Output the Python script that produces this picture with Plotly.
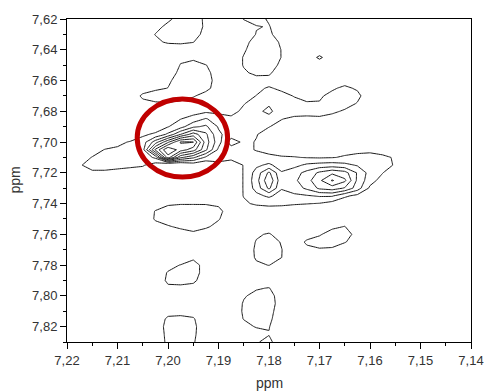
import numpy as np
import plotly.graph_objects as go

# chemical-shift grid (F2 along x, F1 along y), in ppm
x_ppm = [7.22, 7.2175, 7.215, 7.2125, 7.21, 7.2075, 7.205, 7.2025, 7.20, 7.1975,
         7.195, 7.1925, 7.19, 7.1875, 7.185, 7.1825, 7.18, 7.1775, 7.175, 7.1725,
         7.17, 7.1675, 7.165, 7.1625, 7.16, 7.1575, 7.155, 7.1525, 7.15, 7.1475,
         7.145, 7.1425, 7.14]
y_ppm = [7.615, 7.62, 7.625, 7.63, 7.635, 7.64, 7.645, 7.65, 7.655, 7.66,
         7.665, 7.67, 7.675, 7.68, 7.685, 7.69, 7.695, 7.70, 7.705, 7.71,
         7.715, 7.72, 7.725, 7.73, 7.735, 7.74, 7.745, 7.75, 7.755, 7.76,
         7.765, 7.77, 7.775, 7.78, 7.785, 7.79, 7.795, 7.80, 7.805, 7.81,
         7.815, 7.82, 7.825, 7.83, 7.835]

intensity_rows = [
    {8: 9, 9: 18, 10: 17, 11: 8, 13: 5, 14: 15, 15: 18, 16: 15, 17: 5},
    {7: 2, 8: 7, 9: 16, 10: 15, 11: 8, 13: 3, 14: 10.5, 15: 13, 16: 9, 17: 3},
    {7: 5, 8: 14, 9: 20, 10: 16, 11: 8, 14: 5, 15: 9.5, 16: 10.5, 17: 5},
    {7: 10.5, 8: 16, 9: 18, 10: 15, 11: 6, 14: 3, 15: 10.5, 16: 11.5, 17: 6},
    {7: 7, 8: 12, 9: 13, 10: 10.5, 14: 6, 15: 15, 16: 16, 17: 8},
    {14: 8, 15: 18, 16: 18, 17: 9.5},
    {9: 8, 10: 7, 14: 11, 15: 20, 16: 19, 17: 9.5, 20: 13},
    {8: 3, 9: 10.5, 10: 15, 11: 10.5, 12: 2, 14: 11, 15: 18, 16: 16, 17: 7},
    {8: 6, 9: 12, 10: 17, 11: 13, 12: 5, 14: 8, 15: 13, 16: 12, 17: 3},
    {8: 8, 9: 15, 10: 17, 11: 14, 12: 6, 15: 5, 16: 6, 22: 7},
    {6: 5, 7: 8, 8: 10.2, 9: 16, 10: 16, 11: 13, 12: 5, 15: 8, 16: 11, 17: 8, 21: 9, 22: 11.5, 23: 9},
    {5: 3, 6: 12, 7: 15, 8: 16, 9: 15, 10: 11, 11: 6, 14: 7, 15: 10.2, 16: 14, 17: 13, 18: 9.5,
     19: 7, 20: 9, 21: 12, 22: 14, 23: 12, 24: 5},
    {6: 7, 7: 8.5, 8: 9, 9: 7, 10: 5, 11: 3, 14: 9.5, 15: 14, 16: 19, 17: 15, 18: 13, 19: 11,
     20: 10.5, 21: 13, 22: 13, 23: 9.5, 24: 4},
    {9: 3, 10: 6, 11: 8, 12: 8, 13: 7, 14: 12, 15: 18, 16: 22, 17: 15, 18: 14, 19: 13, 20: 12,
     21: 11.5, 22: 9},
    {8: 5, 9: 9.8, 10: 14, 11: 21, 12: 14, 13: 12, 14: 12, 15: 13, 16: 17, 17: 10.3, 18: 8,
     19: 8, 20: 9, 21: 7, 22: 5},
    {7: 3, 8: 9.5, 9: 16, 10: 28, 11: 32, 12: 19, 13: 13, 14: 12, 15: 12, 16: 10.3, 17: 7, 18: 3},
    {6: 8, 7: 12, 8: 22, 9: 40, 10: 55, 11: 42, 12: 22, 13: 15, 14: 12, 15: 10.5, 16: 6, 17: 5},
    {3: 3, 4: 7, 5: 11, 6: 15, 7: 35, 8: 58, 9: 81, 10: 80.5, 11: 45, 12: 24, 13: 5, 14: 12,
     15: 9.5, 16: 5},
    {2: 5, 3: 10.5, 4: 12, 5: 13, 6: 16, 7: 62, 8: 90, 9: 75, 10: 65, 11: 42, 12: 18, 13: 15,
     14: 12, 15: 9.5, 16: 6, 17: 5, 18: 5, 19: 4, 20: 4, 21: 5, 22: 7, 23: 7, 24: 8, 25: 6, 26: 3},
    {1: 5, 2: 10.5, 3: 13, 4: 14, 5: 14, 6: 14, 7: 22, 8: 75, 9: 42, 10: 32, 11: 18, 12: 14,
     13: 12, 14: 12, 15: 13, 16: 13, 17: 11, 18: 10.5, 19: 9.5, 20: 9, 21: 9.5, 22: 11, 23: 13,
     24: 13, 25: 12, 26: 9, 27: 3},
    {1: 9, 2: 14, 3: 14, 4: 13, 5: 12, 6: 11, 7: 5, 8: -10, 9: -5, 10: 2, 11: 0, 12: 7, 13: 6,
     14: 10.3, 15: 18, 16: 22, 17: 15, 18: 17, 19: 22, 20: 24, 21: 25, 22: 23, 23: 19, 24: 15,
     25: 12, 26: 9.5, 27: 3},
    {1: 3, 2: 8, 3: 8, 4: 7, 5: 6, 6: 5, 7: 3, 13: 6, 14: 10.3, 15: 24, 16: 42, 17: 21, 18: 26,
     19: 33, 20: 42, 21: 48, 22: 44, 23: 29, 24: 16, 25: 10.3, 26: 3},
    {13: 6, 14: 10.3, 15: 26, 16: 48, 17: 23, 18: 28, 19: 36, 20: 48, 21: 61, 22: 52, 23: 28,
     24: 14, 25: 6},
    {13: 6, 14: 10.3, 15: 24, 16: 42, 17: 21, 18: 25, 19: 32, 20: 42, 21: 45, 22: 39, 23: 25,
     24: 8, 25: 3},
    {8: 3, 9: 3, 10: 3, 11: 3, 12: 3, 13: 5, 14: 10.3, 15: 17, 16: 22, 17: 15, 18: 18, 19: 19,
     20: 21, 21: 21, 22: 12, 23: 7, 24: 4},
    {7: 5, 8: 8, 9: 9, 10: 9, 11: 9, 12: 8, 13: 3, 14: 9, 15: 11, 16: 12, 17: 12, 18: 11,
     19: 10.5, 20: 9.5, 21: 6, 22: 2},
    {6: 3, 7: 10.5, 8: 16, 9: 18, 10: 18, 11: 17, 12: 13, 13: 4, 14: 5, 15: 6, 16: 6, 17: 5, 18: 4},
    {7: 11.5, 8: 15, 9: 17, 10: 18, 11: 16, 12: 11, 13: 2, 22: 4},
    {7: 5, 8: 9, 9: 12, 10: 15, 11: 12, 12: 6, 16: 2, 21: 8, 22: 10.3, 23: 3},
    {9: 5, 10: 7, 11: 3, 15: 8, 16: 11.5, 17: 3, 19: 5, 20: 9, 21: 14, 22: 15, 23: 6},
    {15: 11, 16: 16, 17: 9, 18: 3, 19: 12, 20: 14, 21: 15, 22: 11, 23: 3},
    {14: 2, 15: 12, 16: 18, 17: 10.3, 18: 2, 19: 7, 20: 9, 21: 8},
    {10: 7, 14: 2, 15: 11.5, 16: 15, 17: 10.1, 18: 2},
    {8: 6, 9: 10.5, 10: 16, 11: 4, 15: 8, 16: 10.3, 17: 5},
    {7: 2, 8: 11, 9: 15, 10: 16, 11: 4, 16: 3},
    {7: 3, 8: 12, 9: 14, 10: 13, 11: 2, 16: 3},
    {8: 8, 9: 7, 10: 5, 15: 9, 16: 10.5, 17: 3},
    {14: 9, 15: 13, 16: 13, 17: 6},
    {13: 2, 14: 11, 15: 16, 16: 14, 17: 6},
    {8: 6, 9: 6, 10: 6, 13: 2, 14: 11.5, 15: 16, 16: 13, 17: 5},
    {7: 3, 8: 12, 9: 13, 10: 11, 11: 3, 13: 2, 14: 10.5, 15: 14, 16: 12, 17: 4},
    {7: 3, 8: 14, 9: 15, 10: 12.5, 11: 3, 14: 6, 15: 11, 16: 10.5, 17: 2},
    {7: 3, 8: 13, 9: 15, 10: 12, 11: 3, 14: 2, 15: 4, 16: 9.5, 17: 1},
    {7: 4, 8: 12, 9: 14, 10: 11, 11: 3, 14: 3, 15: 9, 16: 13, 17: 2},
    {7: 4, 8: 12, 9: 14, 10: 11, 11: 3, 15: 9, 16: 13, 17: 3},
]

# contour levels (first level and spacing)
level_start, level_end, level_step = 10, 80, 10

# highlighted cross-peak (ppm box of the red ring)
ring_x = [7.2061, 7.1882]
ring_y = [7.6720, 7.7227]

z = np.zeros((len(y_ppm), len(x_ppm)))
for r, row in enumerate(intensity_rows):
    for c, v in row.items():
        z[r, c] = v
x_arr = np.array(x_ppm)[::-1]
z = z[:, ::-1]

fig = go.Figure()
fig.add_trace(go.Contour(
    x=x_arr, y=y_ppm, z=z,
    contours=dict(start=level_start, end=level_end, size=level_step, coloring="none"),
    line=dict(color="#1a1a1a", width=1, smoothing=0),
    showscale=False, hoverinfo="skip",
))

fig.add_shape(type="circle", xref="x", yref="y",
              x0=ring_x[0], x1=ring_x[1], y0=ring_y[0], y1=ring_y[1],
              line=dict(color="#c00000", width=5), layer="above")

FONT = "Liberation Sans, Arial, sans-serif"
tickfont = dict(family=FONT, size=13, color="#333333")
axis_common = dict(
    showline=True, linecolor="black", linewidth=1, mirror=True,
    ticks="outside", ticklen=6, tickcolor="black", tickwidth=1,
    showgrid=False, zeroline=False, tickfont=tickfont, tickformat=".2f",
    automargin=False,
)

fig.update_xaxes(range=[7.22, 7.14], dtick=0.01, tick0=7.14,
                 minor=dict(dtick=0.005, ticklen=3, ticks="outside", tickcolor="black", showgrid=False),
                 **axis_common)
fig.update_yaxes(range=[7.83, 7.62], dtick=0.02, tick0=7.62,
                 minor=dict(dtick=0.01, ticklen=3, ticks="outside", tickcolor="black", showgrid=False),
                 **axis_common)

fig.add_annotation(text="ppm", xref="paper", yref="paper", x=0.5, y=-0.128,
                   xanchor="center", yanchor="middle", showarrow=False,
                   font=dict(family=FONT, size=14, color="#333333"))
fig.add_annotation(text="ppm", xref="paper", yref="paper", x=-0.131, y=0.5,
                   xanchor="center", yanchor="middle", showarrow=False, textangle=-90,
                   font=dict(family=FONT, size=14, color="#333333"))

fig.update_layout(
    width=486, height=392,
    margin=dict(l=67, r=15, t=19, b=50, autoexpand=False),
    paper_bgcolor="white", plot_bgcolor="white",
    separators=", ",
    showlegend=False,
)

# remove the page's default 8 px body margin so the figure fills the window exactly
fig.write_html("out.html",
               config={"displayModeBar": False},
               post_script="document.body.style.margin='0';document.body.style.overflow='hidden';")
